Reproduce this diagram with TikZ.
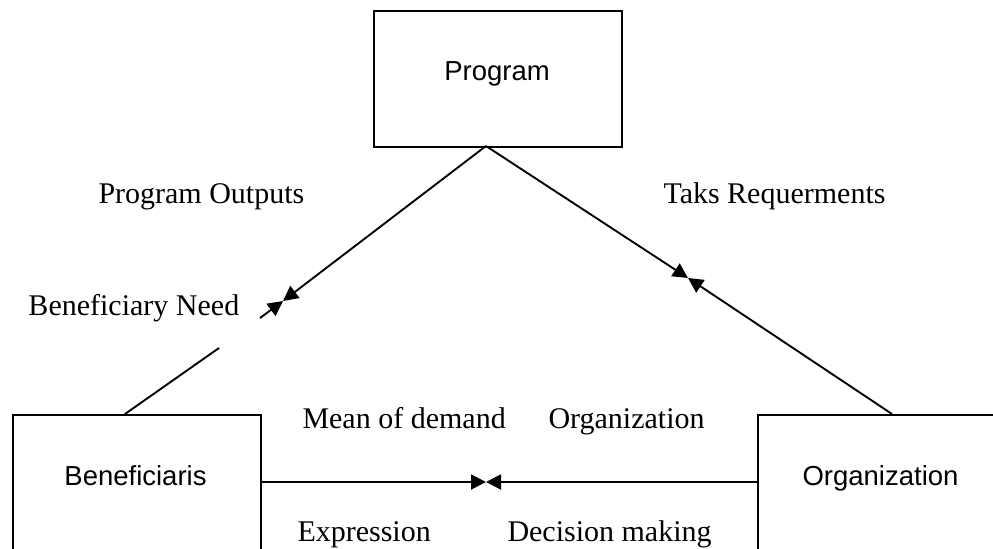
\documentclass[tikz,border=0pt]{standalone}
\usepackage{fontspec}
\setmainfont{Liberation Serif}
\setsansfont{Liberation Sans}
\usetikzlibrary{arrows.meta}
\begin{document}
\begin{tikzpicture}[x=0.4pt,y=-0.4pt,
  box/.style={draw, line width=0.8pt, inner sep=0pt, anchor=north west},
  conn/.style={line width=0.75pt},
  tip/.style={-{Triangle[length=6pt,width=6pt]}},
  boxtext/.style={font=\sffamily\fontsize{11}{13}\selectfont, inner sep=0pt, anchor=base},
  lbl/.style={font=\fontsize{12}{14}\selectfont, inner sep=0pt, anchor=base west}]
\useasboundingbox (0,0) rectangle (993,548);
\clip (0,0) rectangle (993,548);

% boxes
\node[box, minimum width=99.2pt, minimum height=54.4pt] (prog) at (373,10) {};
\node[box, minimum width=99.3pt, minimum height=62.4pt] (ben) at (11.7,414) {};
\node[box, minimum width=100pt, minimum height=62.4pt] (org) at (756.5,414) {};

\node[boxtext] (progtxt) at (497,80) {Program};
\node[boxtext] (bentxt) at (135.5,485) {Beneficiaris};
\node[boxtext] (orgtxt) at (880.5,485) {Organization};

% labels
\node[lbl] (l1) at (98,203) {Program Outputs};
\node[lbl] (l2) at (663,203) {Taks Requerments};
\node[lbl] (l3) at (28,315) {Beneficiary Need};
\node[lbl] (l4) at (302,428) {Mean of demand};
\node[lbl] (l5) at (548,428) {Organization};
\node[lbl] (l6) at (297,541) {Expression};
\node[lbl] (l7) at (507,541) {Decision making};

% connector points
\coordinate (apex) at (486,146);
\coordinate (needtip) at (283,301);
\coordinate (tasktip) at (688,278);
\coordinate (midtip) at (486,482);
\coordinate (benout) at (125,414);
\coordinate (brkA) at (219,348);
\coordinate (brkB) at (260,318);
\coordinate (orgout) at (892,414);

% connectors
\draw[conn,tip] (apex) -- (needtip);
\draw[conn] (benout) -- (brkA);
\draw[conn,tip] (brkB) -- (needtip);
\draw[conn,tip] (apex) -- (tasktip);
\draw[conn,tip] (orgout) -- (tasktip);
\draw[conn,tip] (ben.east |- midtip) -- (midtip);
\draw[conn,tip] (org.west |- midtip) -- (midtip);
\end{tikzpicture}
\end{document}
